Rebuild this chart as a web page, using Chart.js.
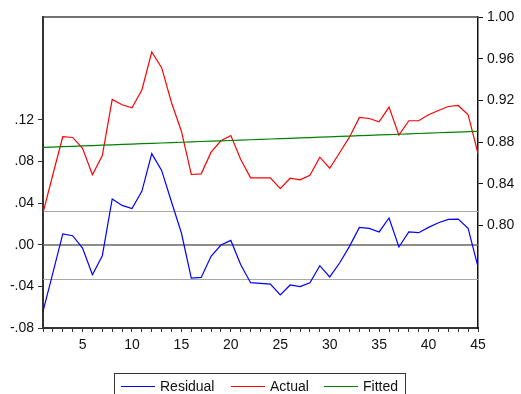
<!DOCTYPE html>
<html>
<head>
<meta charset="utf-8">
<script src="https://cdn.jsdelivr.net/npm/chart.js@4"></script>
<style>
  html, body { margin: 0; padding: 0; background: #fff; }
  #wrap { position: relative; width: 521px; height: 394px; overflow: hidden; }
  #legend { position: absolute; left: 114px; top: 373px; width: 292px; height: 26px;
            border: 1px solid #333; box-sizing: border-box; font-family: "Liberation Sans", Arial, sans-serif;
            font-size: 14px; color: #111; }
  .item { position: absolute; top: 3px; height: 18px; line-height: 18px; white-space: nowrap; }
  .swatch { display: inline-block; width: 34px; height: 0; border-top: 1px solid; vertical-align: middle; margin-right: 5px; position: relative; top: -1px; }
</style>
</head>
<body>
<div id="wrap">
  <canvas id="c" width="521" height="394"></canvas>
  <div id="legend"></div>
</div>
<script>
const obs = [1,2,3,4,5,6,7,8,9,10,11,12,13,14,15,16,17,18,19,20,21,22,23,24,25,26,27,28,29,30,31,32,33,34,35,36,37,38,39,40,41,42,43,44,45];
const residual = [-0.064,-0.027,0.0103,0.0086,-0.0032,-0.0288,-0.0106,0.0439,0.0377,0.0346,0.0512,0.0874,0.0713,0.041,0.0112,-0.032,-0.0314,-0.0112,-0.0003,0.0041,-0.0192,-0.0365,-0.0371,-0.0378,-0.0483,-0.0387,-0.0403,-0.0365,-0.0202,-0.031,-0.0176,-0.0016,0.0166,0.0157,0.0122,0.0256,-0.0022,0.0122,0.0115,0.0166,0.0211,0.0243,0.0246,0.0157,-0.0214];
const actual = [0.8122,0.849,0.8852,0.8845,0.874,0.8487,0.8672,0.921,0.9159,0.913,0.930,0.9664,0.9514,0.9178,0.8905,0.849,0.8496,0.8704,0.8813,0.8864,0.8634,0.8458,0.8458,0.8458,0.8355,0.8454,0.8439,0.8483,0.8656,0.855,0.8698,0.8848,0.9037,0.9027,0.8995,0.9136,0.8867,0.9005,0.9005,0.9063,0.9104,0.9142,0.9152,0.9063,0.8691];
const fitted = [0.8750,0.8753,0.8757,0.8760,0.8764,0.8767,0.8771,0.8774,0.8778,0.8781,0.8785,0.8788,0.8792,0.8795,0.8799,0.8802,0.8806,0.8809,0.8813,0.8816,0.8820,0.8823,0.8827,0.8830,0.8834,0.8837,0.8841,0.8844,0.8848,0.8851,0.8855,0.8858,0.8862,0.8865,0.8869,0.8872,0.8876,0.8879,0.8883,0.8886,0.8890,0.8893,0.8897,0.8900,0.8904];
const leftTicks = [-0.08,-0.04,0.00,0.04,0.08,0.12];
const rightTicks = [0.80,0.84,0.88,0.92,0.96,1.00];
const xLabelTicks = [5,10,15,20,25,30,35,40,45];
const refLines = [0.0327, -0.0327];
const zeroLine = [0];
const seriesNames = ['Residual','Actual','Fitted'];
const seriesColors = ['#0000ff','#ff0000','#008000'];

const FONT = { family: '"Liberation Sans", Arial, sans-serif', size: 14 };

const refPlugin = {
  id: 'refs',
  beforeDatasetsDraw(chart) {
    const { ctx, chartArea: a, scales } = chart;
    const yl = scales.yL;
    ctx.save();
    refLines.forEach(v => {
      const y = Math.round(yl.getPixelForValue(v)) + 0.5;
      ctx.strokeStyle = '#a8a8a8'; ctx.lineWidth = 1;
      ctx.beginPath(); ctx.moveTo(a.left, y); ctx.lineTo(a.right, y); ctx.stroke();
    });
    zeroLine.forEach(v => {
      const y = Math.round(yl.getPixelForValue(v));
      ctx.strokeStyle = '#666'; ctx.lineWidth = 1.6;
      ctx.beginPath(); ctx.moveTo(a.left, y); ctx.lineTo(a.right, y); ctx.stroke();
    });
    ctx.restore();
  },
  afterDraw(chart) {
    const { ctx, chartArea: a } = chart;
    ctx.save();
    ctx.strokeStyle = '#444'; ctx.lineWidth = 1.5;
    ctx.beginPath(); ctx.moveTo(a.left, a.top); ctx.lineTo(a.right, a.top); ctx.stroke();
    ctx.restore();
  }
};

const mk = (name, data, color, axis) => ({
  label: name,
  data: obs.map((x, i) => ({ x, y: data[i] })),
  borderColor: color, backgroundColor: color, borderWidth: 1.2,
  pointRadius: 0, tension: 0, yAxisID: axis, fill: false
});

new Chart(document.getElementById('c'), {
  type: 'line',
  data: {
    datasets: [
      mk(seriesNames[2], fitted, seriesColors[2], 'yR'),
      mk(seriesNames[1], actual, seriesColors[1], 'yR'),
      mk(seriesNames[0], residual, seriesColors[0], 'yL')
    ]
  },
  options: {
    responsive: false, animation: false, events: [],
    layout: { padding: { left: 0, right: 0, top: 17, bottom: 36 } },
    plugins: { legend: { display: false }, tooltip: { enabled: false } },
    scales: {
      x: {
        type: 'linear', min: 1, max: 45,
        afterBuildTicks: s => { s.ticks = obs.map(v => ({ value: v })); },
        afterFit: s => { s.height = 30; },
        ticks: { autoSkip: false, maxRotation: 0, color: '#111', font: FONT, padding: 5,
                 callback: v => xLabelTicks.includes(v) ? String(v) : '' },
        grid: { drawOnChartArea: false, drawTicks: true, tickLength: 4, color: '#333' },
        border: { display: true, color: '#333', width: 2 }
      },
      yL: {
        type: 'linear', position: 'left', min: -0.08, max: 0.2186,
        afterBuildTicks: s => { s.ticks = leftTicks.map(v => ({ value: v })); },
        afterFit: s => { s.width = 43; },
        ticks: { color: '#111', font: FONT, padding: 4,
                 callback: v => v.toFixed(2).replace('0.', '.') },
        grid: { drawOnChartArea: false, drawTicks: true, tickLength: 5, color: '#333' },
        border: { display: true, color: '#333', width: 2 }
      },
      yR: {
        type: 'linear', position: 'right', min: 0.7018, max: 1.00,
        afterBuildTicks: s => { s.ticks = rightTicks.map(v => ({ value: v })); },
        afterFit: s => { s.width = 43; },
        ticks: { color: '#111', font: FONT, padding: 4, callback: v => v.toFixed(2) },
        grid: { drawOnChartArea: false, drawTicks: true, tickLength: 5, color: '#111' },
        border: { display: true, color: '#111', width: 1.5 }
      }
    }
  },
  plugins: [refPlugin]
});

const lg = document.getElementById('legend');
const lefts = [6, 116, 209];
seriesNames.forEach((n, i) => {
  const d = document.createElement('div');
  d.className = 'item';
  d.style.left = lefts[i] + 'px';
  d.innerHTML = '<span class="swatch" style="border-color:' + seriesColors[i] + '"></span>' + n;
  lg.appendChild(d);
});
</script>
</body>
</html>
